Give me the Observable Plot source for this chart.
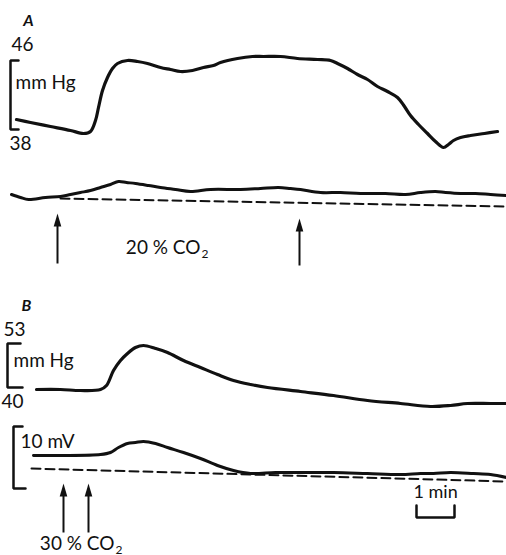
<!DOCTYPE html>
<html>
<head>
<meta charset="utf-8">
<script src="https://cdn.jsdelivr.net/npm/d3@7"></script>
<script src="https://cdn.jsdelivr.net/npm/@observablehq/plot@0.6"></script>
<style>
  html, body { margin: 0; padding: 0; background: #fff; }
  svg { display: block; }
</style>
</head>
<body>
<div id="chart"></div>
<script>
// Trace samples: [time position, trace level]
const pressureA = [[16,119],[30,122],[50,126],[70,130],[83,133],[90,131],[95,120],[98,107],[102,90],[107,77],[112,68],[117,63],[127,60],[137,61],[147,63],[160,67],[170,69],[180,71],[192,70],[203,67],[213,65],[220,62],[237,58],[252,56],[263,56],[280,56],[297,58],[317,59],[330,60],[337,63],[347,68],[357,74],[367,79],[377,86],[387,91],[397,97],[404,106],[410,115],[418,124],[427,133],[435,141],[443,147],[448,144],[453,140],[460,137],[470,135],[484,133],[497,131]];
const potentialA = [[11,194],[20,197],[28,199],[45,197],[60,196],[70,194],[80,192],[90,190],[100,187],[110,184],[118,181],[126,182],[135,183],[148,185],[160,187],[175,189],[190,191],[210,189],[240,189],[260,188],[278,187],[290,188],[300,189],[320,192],[340,192],[360,193],[385,193],[405,194],[420,192],[435,191],[445,192],[460,193],[475,193],[490,194],[506,195]];
const baselineA = [[60,198],[506,206]];
const pressureB = [[36,389],[60,389],[80,390],[100,389],[106,385],[113,370],[120,360],[127,353],[135,347],[143,345],[155,348],[167,352],[183,360],[200,367],[217,374],[233,380],[250,384],[267,387],[300,391],[333,395],[367,400],[400,403],[430,406],[450,405],[467,403],[490,403],[506,403]];
const potentialB = [[33,455],[60,455],[100,454],[110,452],[118,447],[127,443],[135,442],[143,441],[155,443],[167,447],[183,452],[200,458],[217,465],[233,470],[250,473],[275,472],[300,472],[333,472],[367,473],[400,474],[420,473],[433,473],[450,472],[473,473],[490,474],[506,477]];
const baselineB = [[31,468],[506,481]];

// Calibration brackets
const bracketA = [[18,60],[10,60],[10,129],[18,129]];
const bracketBp = [[20,343],[7,343],[7,387],[22,387]];
const bracketBv = [[22,426],[13,426],[13,488],[25,488]];
const timeBar = [[416,505],[416,517],[454,517],[454,505]];

// Stimulus arrows: x, tip, tail
const arrows = [[57,213,263],[299,218,265],[63,483,532],[88,483,532]];

// Labels: text, x, baseline y, size, anchor, style
const labels = [
  ["A", 28, 25, 16, "middle", "italic"],
  ["46", 22, 50, 19, "middle", "normal"],
  ["38", 20, 149, 19, "middle", "normal"],
  ["mm Hg", 15, 88, 19, "start", "normal"],
  ["20 % CO", 200, 253, 19, "end", "normal"],
  ["B", 26, 310, 16, "middle", "italic"],
  ["53", 14, 335, 19, "middle", "normal"],
  ["40", 12, 407, 19, "middle", "normal"],
  ["mm Hg", 13, 366, 19, "start", "normal"],
  ["10 mV", 20, 447, 19, "start", "normal"],
  ["1 min", 413, 497, 18, "start", "normal"],
  ["30 % CO", 114, 549, 19, "end", "normal"]
];
const subscripts = [["2", 201, 257], ["2", 115, 553]];

const toXY = a => a.map(([x, y]) => ({x, y}));
const font = "Lato, 'Open Sans', sans-serif";

const arrowHead = {
  draw(ctx) {
    ctx.moveTo(0, 0);
    ctx.lineTo(3.8, 13);
    ctx.lineTo(-3.8, 13);
    ctx.closePath();
  }
};

const traceMark = (arr, w) => Plot.line(toXY(arr), {x: "x", y: "y", stroke: "#111", strokeWidth: w, curve: "catmull-rom", strokeLinejoin: "round", strokeLinecap: "round"});
const dashMark = arr => Plot.line(toXY(arr), {x: "x", y: "y", stroke: "#111", strokeWidth: 2, strokeDasharray: "9,5"});
const bracketMark = arr => Plot.line(toXY(arr), {x: "x", y: "y", stroke: "#111", strokeWidth: 2.5, strokeLinejoin: "miter"});

const plot = Plot.plot({
  width: 506,
  height: 555,
  margin: 0,
  style: {fontFamily: font, background: "#fff"},
  x: {domain: [0, 506], axis: null},
  y: {domain: [555, 0], axis: null},
  marks: [
    traceMark(pressureA, 3.2),
    traceMark(potentialA, 3),
    dashMark(baselineA),
    traceMark(pressureB, 3.2),
    traceMark(potentialB, 3),
    dashMark(baselineB),
    bracketMark(bracketA),
    bracketMark(bracketBp),
    bracketMark(bracketBv),
    bracketMark(timeBar),
    Plot.link(arrows, {x1: d => d[0], x2: d => d[0], y1: d => d[2], y2: d => d[1] + 10, stroke: "#111", strokeWidth: 2}),
    Plot.dot(arrows, {x: d => d[0], y: d => d[1], symbol: arrowHead, fill: "#111", stroke: "none", r: 4}),
    ...labels.map(([t, x, y, s, anchor, style]) =>
      Plot.text([t], {x: () => x, y: () => y, text: d => d, fontSize: s, textAnchor: anchor, lineAnchor: "bottom", fontStyle: style, fill: "#111", fontWeight: style === "italic" ? "bold" : "normal"})),
    Plot.text(subscripts, {x: d => d[1], y: d => d[2], text: d => d[0], fontSize: 12, textAnchor: "start", lineAnchor: "bottom", fill: "#111"})
  ]
});
document.getElementById("chart").append(plot);
</script>
</body>
</html>
